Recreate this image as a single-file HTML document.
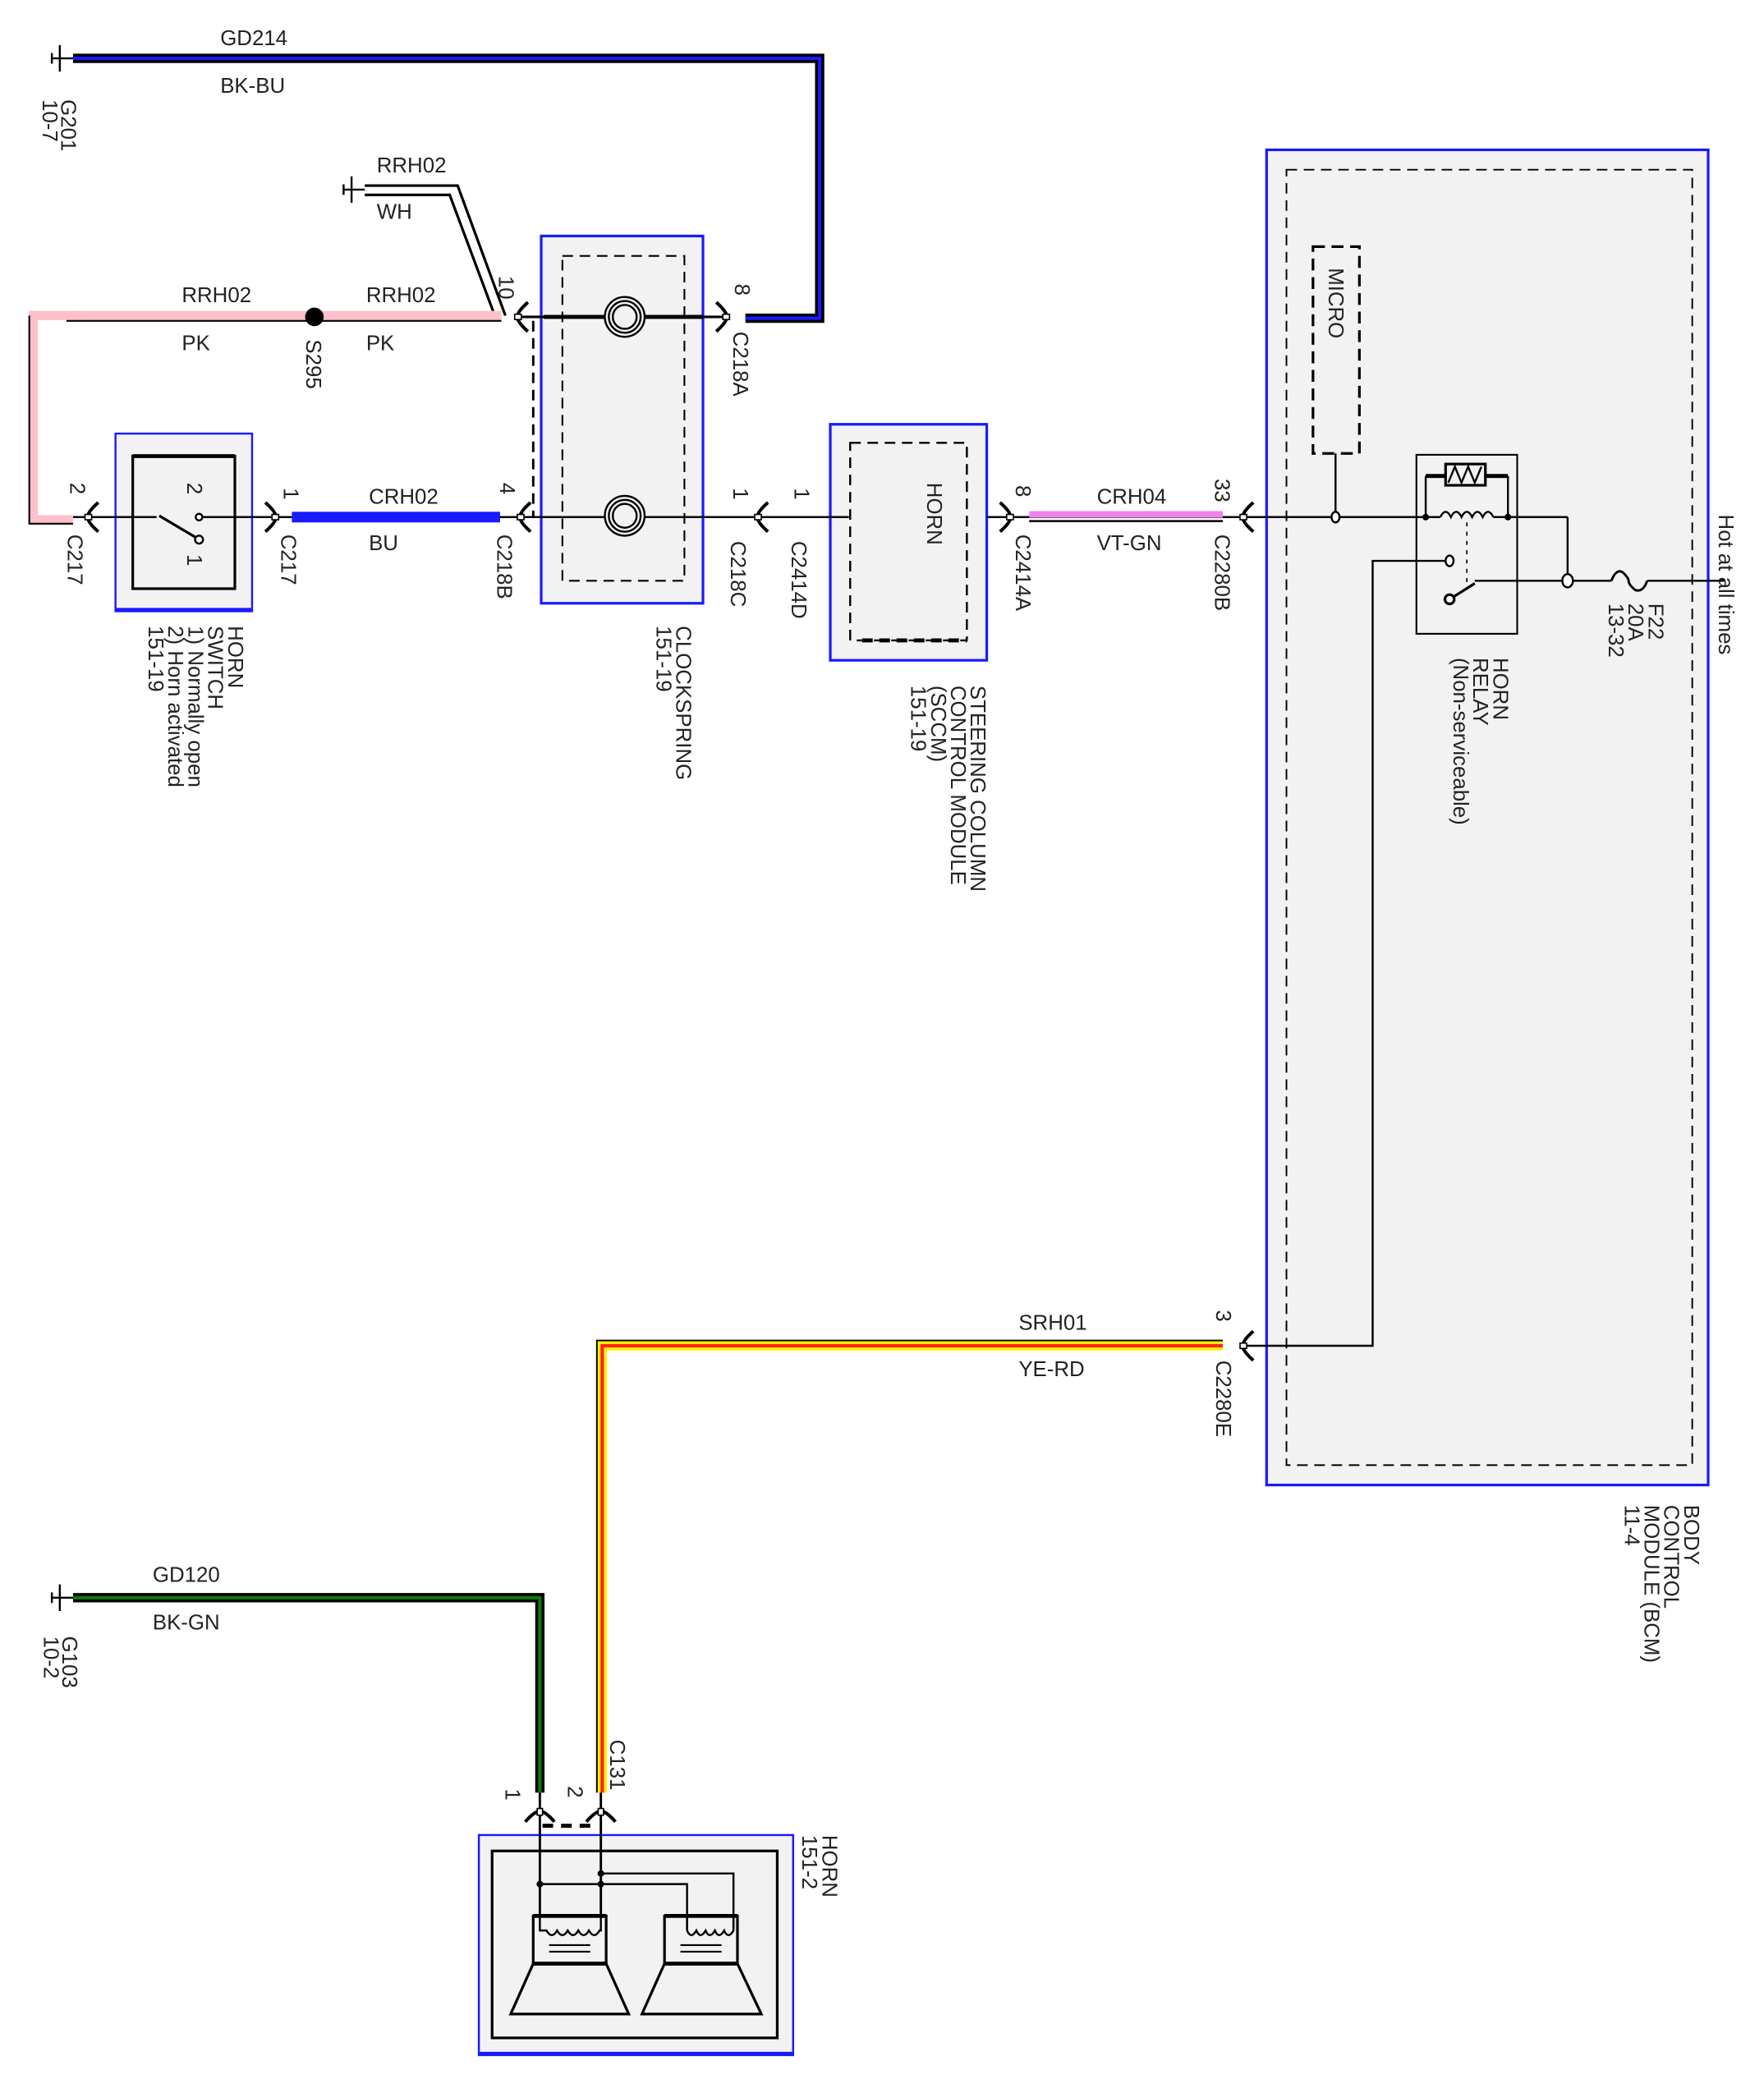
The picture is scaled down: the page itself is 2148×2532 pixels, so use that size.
<!DOCTYPE html>
<html><head><meta charset="utf-8"><style>
html,body{margin:0;padding:0;background:#fff;}
svg{display:block;}
text{font-family:"Liberation Sans",sans-serif;font-size:16px;fill:#222;}
</style></head><body>
<svg width="2148" height="2532" viewBox="0 0 1330 1568" xmlns="http://www.w3.org/2000/svg">
<defs>
<g id="gnd"><line x1="0" y1="0" x2="-16" y2="0" stroke="#000" stroke-width="1.5"/><line x1="-10" y1="-10" x2="-10" y2="10" stroke="#000" stroke-width="1.5"/><line x1="-16" y1="-4" x2="-16" y2="4" stroke="#000" stroke-width="1.5"/></g>
<g id="cl"><path d="M8,-11 Q0,-4 0,0 Q0,4 8,11" fill="none" stroke="#000" stroke-width="2.5"/><rect x="-2" y="-2" width="5" height="4" fill="#fff" stroke="#000" stroke-width="1"/></g>
<g id="cr"><path d="M-8,-11 Q0,-4 0,0 Q0,4 -8,11" fill="none" stroke="#000" stroke-width="2.5"/><rect x="-3" y="-2" width="5" height="4" fill="#fff" stroke="#000" stroke-width="1"/></g>
<g id="cu"><path d="M-11,8 Q-4,0 0,0 Q4,0 11,8" fill="none" stroke="#000" stroke-width="2.5"/><rect x="-2" y="-2" width="4" height="5" fill="#fff" stroke="#000" stroke-width="1"/></g>
<g id="coil"><circle r="15" fill="#f2f2f2" stroke="#000" stroke-width="1.5"/><circle r="12" fill="none" stroke="#000" stroke-width="1.5"/><circle r="9" fill="none" stroke="#000" stroke-width="1.5"/></g>
</defs>

<!-- BCM -->
<rect x="955" y="113" width="333" height="1007" fill="#f2f2f2" stroke="#1a1aff" stroke-width="2"/>
<rect x="970" y="128" width="306" height="977" fill="none" stroke="#000" stroke-width="1.2" stroke-dasharray="8,5"/>
<rect x="990" y="186" width="35" height="156" fill="none" stroke="#000" stroke-width="2" stroke-dasharray="9,5"/>
<text transform="translate(1002,202) rotate(90)">MICRO</text>

<!-- Clockspring -->
<rect x="408" y="178" width="122" height="277" fill="#f2f2f2" stroke="#1a1aff" stroke-width="2"/>
<rect x="424" y="193" width="92" height="245" fill="none" stroke="#000" stroke-width="1.3" stroke-dasharray="8,5"/>
<line x1="402" y1="242" x2="402" y2="390" stroke="#000" stroke-width="1.8" stroke-dasharray="8,5"/>

<!-- SCCM -->
<rect x="626" y="320" width="118" height="178" fill="#f2f2f2" stroke="#1a1aff" stroke-width="2"/>
<rect x="641" y="334" width="88" height="149" fill="none" stroke="#000" stroke-width="1.5" stroke-dasharray="8,5"/>
<line x1="650" y1="483" x2="729" y2="483" stroke="#000" stroke-width="3" stroke-dasharray="8,5"/>
<text transform="translate(699,364) rotate(90)">HORN</text>

<!-- Horn switch -->
<rect x="87" y="327" width="103" height="134" fill="#f2f2f2" stroke="#1a1aff" stroke-width="1.5"/>
<line x1="87" y1="460" x2="190" y2="460" stroke="#1a1aff" stroke-width="3"/>
<rect x="100" y="344" width="77" height="100" fill="none" stroke="#000" stroke-width="2"/>
<line x1="100" y1="344" x2="177" y2="344" stroke="#000" stroke-width="3"/>

<!-- Horn -->
<rect x="361" y="1384" width="237" height="166" fill="#f2f2f2" stroke="#1a1aff" stroke-width="1.5"/>
<line x1="361" y1="1549" x2="598" y2="1549" stroke="#1a1aff" stroke-width="3"/>
<rect x="371" y="1396" width="215" height="141" fill="none" stroke="#000" stroke-width="2"/>

<!-- GD214 -->
<use href="#gnd" x="55" y="44"/>
<polyline points="55,44 618,44 618,240 562,240" fill="none" stroke="#000" stroke-width="7"/>
<polyline points="55,44 618,44 618,240 562,240" fill="none" stroke="#1a1aff" stroke-width="2.5"/>
<text x="166" y="34">GD214</text>
<text x="166" y="70">BK-BU</text>
<text transform="translate(46,75) rotate(90)"><tspan x="0" y="0">G201</tspan><tspan x="0" y="14">10-7</tspan></text>

<!-- WH ground -->
<use href="#gnd" x="275" y="143"/>
<polyline points="275,140 345,140 381,238" fill="none" stroke="#000" stroke-width="2"/>
<polyline points="275,147 339,147 373,238" fill="none" stroke="#000" stroke-width="2"/>
<text x="284" y="130">RRH02</text>
<text x="284" y="165">WH</text>

<!-- Pink wire -->
<polyline points="378,238 25,238 25,392 55,392" fill="none" stroke="#ffc0cb" stroke-width="7"/>
<line x1="50" y1="242" x2="378" y2="242" stroke="#000" stroke-width="1.3"/>
<polyline points="22,238 22,395 55,395" fill="none" stroke="#000" stroke-width="1.3"/>
<circle cx="237" cy="239" r="7" fill="#000"/>
<text x="137" y="228">RRH02</text><text x="276" y="228">RRH02</text>
<text x="137" y="264">PK</text><text x="276" y="264">PK</text>
<text transform="translate(231,256) rotate(90)">S295</text>
<text transform="translate(376,208) rotate(90)">10</text>

<!-- upper clockspring line -->
<line x1="392" y1="239" x2="545" y2="239" stroke="#000" stroke-width="2"/>
<line x1="410" y1="239" x2="530" y2="239" stroke="#000" stroke-width="3"/>
<use href="#cl" x="390" y="239"/>
<use href="#coil" x="471" y="239"/>
<use href="#cr" x="548" y="239"/>
<text transform="translate(554,214) rotate(90)">8</text>
<text transform="translate(553,250) rotate(90)">C218A</text>

<!-- lower line -->
<line x1="55" y1="390" x2="640" y2="390" stroke="#000" stroke-width="1.5"/>
<line x1="744" y1="390" x2="1182" y2="390" stroke="#000" stroke-width="1.5"/>
<use href="#cl" x="66" y="390"/>
<use href="#cr" x="208" y="390"/>
<line x1="220" y1="390" x2="377" y2="390" stroke="#1a1aff" stroke-width="8"/>
<line x1="122" y1="389" x2="147" y2="403" stroke="#fff" stroke-width="0"/>
<rect x="118" y="385" width="34" height="10" fill="#f2f2f2"/>
<line x1="120" y1="389" x2="147" y2="405" stroke="#000" stroke-width="2"/>
<circle cx="150" cy="390" r="2.5" fill="#fff" stroke="#000" stroke-width="1.5"/>
<circle cx="150" cy="407" r="3" fill="#fff" stroke="#000" stroke-width="1.5"/>
<text transform="translate(141,364) rotate(90)">2</text>
<text transform="translate(141,418) rotate(90)">1</text>
<text transform="translate(53,364) rotate(90)">2</text>
<text transform="translate(51,403) rotate(90)">C217</text>
<text transform="translate(214,368) rotate(90)">1</text>
<text transform="translate(212,403) rotate(90)">C217</text>
<text x="278" y="380">CRH02</text>
<text x="278" y="415">BU</text>
<use href="#cl" x="392" y="390"/>
<text transform="translate(377,364) rotate(90)">4</text>
<text transform="translate(375,403) rotate(90)">C218B</text>
<use href="#coil" x="471" y="389"/>
<use href="#cl" x="571" y="390"/>
<text transform="translate(553,368) rotate(90)">1</text>
<text transform="translate(551,408) rotate(90)">C218C</text>
<text transform="translate(599,368) rotate(90)">1</text>
<text transform="translate(597,408) rotate(90)">C2414D</text>

<use href="#cr" x="762" y="390"/>
<text transform="translate(766,366) rotate(90)">8</text>
<text transform="translate(766,403) rotate(90)">C2414A</text>
<line x1="776" y1="388" x2="922" y2="388" stroke="#ee82ee" stroke-width="5"/>
<line x1="776" y1="393" x2="922" y2="393" stroke="#000" stroke-width="1.5"/>
<text x="827" y="380">CRH04</text>
<text x="827" y="415">VT-GN</text>
<use href="#cl" x="937" y="390"/>
<text transform="translate(916,361) rotate(90)">33</text>
<text transform="translate(916,403) rotate(90)">C2280B</text>

<!-- BCM internals -->
<line x1="1007" y1="342" x2="1007" y2="390" stroke="#000" stroke-width="1.5"/>
<ellipse cx="1007" cy="390" rx="3" ry="4" fill="#fff" stroke="#000" stroke-width="1.5"/>
<rect x="1068" y="343" width="76" height="135" fill="none" stroke="#000" stroke-width="1.3"/>
<line x1="1075" y1="359" x2="1137" y2="359" stroke="#000" stroke-width="3"/>
<rect x="1090" y="350" width="30" height="16" fill="#f2f2f2" stroke="#000" stroke-width="2"/>
<polyline points="1092,364 1097,352 1102,364 1107,352 1112,364 1117,352" fill="none" stroke="#000" stroke-width="1.5"/>
<line x1="1075" y1="359" x2="1075" y2="390" stroke="#000" stroke-width="1.5"/>
<line x1="1137" y1="359" x2="1137" y2="390" stroke="#000" stroke-width="1.5"/>
<rect x="1086" y="384" width="40" height="8" fill="#f2f2f2"/>
<path d="M1086,390 q4,-8 8,0 q4,-8 8,0 q4,-8 8,0 q4,-8 8,0 q4,-8 8,0" fill="none" stroke="#000" stroke-width="1.5"/>
<circle cx="1075" cy="390" r="2.5" fill="#000"/><circle cx="1137" cy="390" r="2.5" fill="#000"/>
<line x1="1106" y1="394" x2="1106" y2="440" stroke="#000" stroke-width="1" stroke-dasharray="3,4"/>
<polyline points="1182,390 1182,438" fill="none" stroke="#000" stroke-width="1.5"/>
<polyline points="940,1015 1035,1015 1035,423 1090,423" fill="none" stroke="#000" stroke-width="1.5"/>
<ellipse cx="1093" cy="423" rx="3" ry="4" fill="#fff" stroke="#000" stroke-width="1.5"/>
<line x1="1093" y1="452" x2="1112" y2="440" stroke="#000" stroke-width="2"/>
<circle cx="1093" cy="452" r="3.5" fill="#fff" stroke="#000" stroke-width="2"/>
<line x1="1112" y1="438" x2="1215" y2="438" stroke="#000" stroke-width="1.5"/>
<ellipse cx="1182" cy="438" rx="4" ry="5" fill="#fff" stroke="#000" stroke-width="1.5"/>
<path d="M1215,438 q4,-10 9,-6 q4,4 4,6 q0,3 5,7 q6,2 9,-7" fill="none" stroke="#000" stroke-width="1.8"/>
<line x1="1242" y1="438" x2="1300" y2="438" stroke="#000" stroke-width="1.5"/>
<text transform="translate(1296,388) rotate(90)">Hot at all times</text>
<text transform="translate(1243,455) rotate(90)"><tspan x="0" y="0">F22</tspan><tspan x="0" y="15">20A</tspan><tspan x="0" y="30">13-32</tspan></text>
<text transform="translate(1126,496) rotate(90)"><tspan x="0" y="0">HORN</tspan><tspan x="0" y="15">RELAY</tspan><tspan x="0" y="30">(Non-serviceable)</tspan></text>

<!-- SRH01 -->
<polyline points="922,1013 452,1013 452,1352" fill="none" stroke="#000" stroke-width="1"/>
<polyline points="922,1015 454,1015 454,1352" fill="none" stroke="#ffee00" stroke-width="7"/>
<polyline points="922,1015 454,1015 454,1352" fill="none" stroke="#ff2020" stroke-width="2.5"/>
<polyline points="922,1011 450,1011 450,1352" fill="none" stroke="#000" stroke-width="1.2"/>
<use href="#cl" x="937" y="1015"/>
<text transform="translate(917,988) rotate(90)">3</text>
<text transform="translate(917,1026) rotate(90)">C2280E</text>
<text x="768" y="1003">SRH01</text>
<text x="768" y="1038">YE-RD</text>

<!-- GD120 -->
<use href="#gnd" x="55" y="1205"/>
<polyline points="55,1205 407,1205 407,1352" fill="none" stroke="#000" stroke-width="7"/>
<polyline points="55,1205 407,1205 407,1352" fill="none" stroke="#0a7a0a" stroke-width="2.5"/>
<text x="115" y="1193">GD120</text>
<text x="115" y="1229">BK-GN</text>
<text transform="translate(47,1234) rotate(90)"><tspan x="0" y="0">G103</tspan><tspan x="0" y="14">10-2</tspan></text>

<!-- C131 -->
<line x1="407" y1="1352" x2="407" y2="1445" stroke="#000" stroke-width="1.8"/>
<line x1="453" y1="1352" x2="453" y2="1445" stroke="#000" stroke-width="1.8"/>
<use href="#cu" x="407" y="1366"/>
<use href="#cu" x="453" y="1366"/>
<line x1="409" y1="1377" x2="451" y2="1377" stroke="#000" stroke-width="3" stroke-dasharray="8,6"/>
<text transform="translate(381,1349) rotate(90)">1</text>
<text transform="translate(428,1347) rotate(90)">2</text>
<text transform="translate(460,1312) rotate(90)">C131</text>
<text transform="translate(620,1384) rotate(90)"><tspan x="0" y="0">HORN</tspan><tspan x="0" y="15">151-2</tspan></text>

<!-- horn internals -->
<polyline points="407,1421 518,1421 518,1455" fill="none" stroke="#000" stroke-width="1.5"/>
<polyline points="453,1413 553,1413 553,1455" fill="none" stroke="#000" stroke-width="1.5"/>
<circle cx="407" cy="1421" r="2.5" fill="#000"/><circle cx="453" cy="1413" r="2.5" fill="#000"/><circle cx="453" cy="1421" r="2.5" fill="#000"/>
<rect x="402" y="1445" width="55" height="36" fill="none" stroke="#000" stroke-width="2"/>
<line x1="402" y1="1445" x2="457" y2="1445" stroke="#000" stroke-width="3"/>
<rect x="501" y="1445" width="55" height="36" fill="none" stroke="#000" stroke-width="2"/>
<line x1="501" y1="1445" x2="556" y2="1445" stroke="#000" stroke-width="3"/>
<path d="M407,1445 L407,1456 L412,1456 q4,7 8,0 q4,7 8,0 q4,7 8,0 q4,7 8,0 q4,7 8,0 L453,1456 L453,1445" fill="none" stroke="#000" stroke-width="1.5"/>
<path d="M518,1445 L518,1456 L518,1456 q3,7 7,0 q3,7 7,0 q3,7 7,0 q3,7 7,0 q3,7 7,0 L553,1456 L553,1445" fill="none" stroke="#000" stroke-width="1.5"/>
<line x1="414" y1="1467" x2="445" y2="1467" stroke="#000" stroke-width="1.3"/><line x1="414" y1="1472" x2="445" y2="1472" stroke="#000" stroke-width="1.3"/>
<line x1="513" y1="1467" x2="544" y2="1467" stroke="#000" stroke-width="1.3"/><line x1="513" y1="1472" x2="544" y2="1472" stroke="#000" stroke-width="1.3"/>
<polygon points="402,1481 457,1481 474,1519 385,1519" fill="none" stroke="#000" stroke-width="2"/>
<line x1="402" y1="1481" x2="457" y2="1481" stroke="#000" stroke-width="3"/>
<polygon points="501,1481 556,1481 574,1519 484,1519" fill="none" stroke="#000" stroke-width="2"/>
<line x1="501" y1="1481" x2="556" y2="1481" stroke="#000" stroke-width="3"/>

<!-- component labels -->
<text transform="translate(172,472) rotate(90)"><tspan x="0" y="0">HORN</tspan><tspan x="0" y="15">SWITCH</tspan><tspan x="0" y="30">1) Normally open</tspan><tspan x="0" y="45">2) Horn activated</tspan><tspan x="0" y="60">151-19</tspan></text>
<text transform="translate(510,472) rotate(90)"><tspan x="0" y="0">CLOCKSPRING</tspan><tspan x="0" y="15">151-19</tspan></text>
<text transform="translate(732,517) rotate(90)"><tspan x="0" y="0">STEERING COLUMN</tspan><tspan x="0" y="15">CONTROL MODULE</tspan><tspan x="0" y="30">(SCCM)</tspan><tspan x="0" y="45">151-19</tspan></text>
<text transform="translate(1270,1135) rotate(90)"><tspan x="0" y="0">BODY</tspan><tspan x="0" y="15">CONTROL</tspan><tspan x="0" y="30">MODULE (BCM)</tspan><tspan x="0" y="45">11-4</tspan></text>
</svg>
</body></html>
